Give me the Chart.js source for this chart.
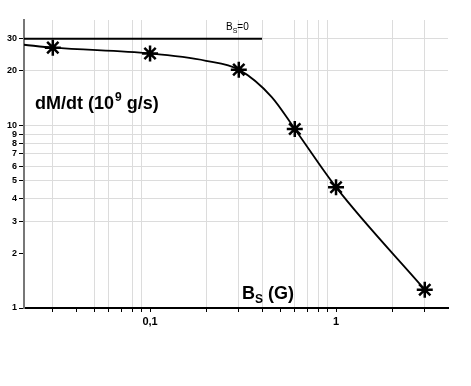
<!DOCTYPE html>
<html>
<head>
<meta charset="utf-8">
<script src="https://cdn.jsdelivr.net/npm/chart.js@4"></script>
<style>
  html, body { margin: 0; padding: 0; background: #fff; }
  #wrap { width: 471px; height: 386px; }
</style>
</head>
<body>
<div id="wrap"><canvas id="myChart" width="471" height="386"></canvas></div>
<script>
// measured points (stars)
const bField = [0.03, 0.1, 0.3, 0.6, 1, 3];
const mdot = [26.8, 24.9, 20.3, 9.6, 4.6, 1.26];
// fitted curve
const curveX = [0.021, 0.03, 0.1, 0.2, 0.3, 0.45, 0.6, 1, 3];
const curveY = [27.8, 26.8, 24.9, 22.7, 20.3, 14.4, 9.6, 4.6, 1.26];
// B_S = 0 level
const zeroX = [0.021, 0.4];
const zeroY = [30, 30];

const xTicks = [0.03, 0.04, 0.05, 0.06, 0.07, 0.08, 0.09, 0.1, 0.2, 0.3, 0.4, 0.5, 0.6, 0.7, 0.8, 0.9, 1, 2, 3];
const xNoGrid = [0.04, 0.07, 0.1, 0.5, 1];
const yTicks = [1, 2, 3, 4, 5, 6, 7, 8, 9, 10, 20, 30];
const yNoGrid = [1, 2];

const FONT = "'Liberation Sans', Arial, sans-serif";

function pts(xs, ys) {
  return xs.map((x, i) => ({ x: x, y: ys[i] }));
}

const titles = {
  id: "titles",
  afterDraw(chart) {
    const ctx = chart.ctx;
    ctx.save();
    ctx.fillStyle = "#000";
    ctx.textBaseline = "alphabetic";
    ctx.textAlign = "left";
    // y title
    let x = 35, y = 109;
    ctx.font = "bold 18px " + FONT;
    ctx.fillText("dM/dt (10", x, y);
    x += ctx.measureText("dM/dt (10").width;
    ctx.font = "bold 12px " + FONT;
    ctx.fillText("9", x + 1, y - 8);
    x += ctx.measureText("9").width + 1;
    ctx.font = "bold 18px " + FONT;
    ctx.fillText(" g/s)", x, y);
    // x title
    x = 242; y = 299;
    ctx.fillText("B", x, y);
    x += ctx.measureText("B").width;
    ctx.font = "bold 12px " + FONT;
    ctx.fillText("S", x, y + 4);
    x += ctx.measureText("S").width;
    ctx.font = "bold 18px " + FONT;
    ctx.fillText(" (G)", x, y);
    // B_S=0 label
    x = 226; y = 30;
    ctx.font = "10px " + FONT;
    ctx.fillText("B", x, y);
    x += ctx.measureText("B").width;
    ctx.font = "7px " + FONT;
    ctx.fillText("S", x, y + 3);
    x += ctx.measureText("S").width;
    ctx.font = "10px " + FONT;
    ctx.fillText("=0", x, y);
    ctx.restore();
  },
};

function charter() {
  const ctx = document.getElementById("myChart");
  new Chart(ctx, {
    type: "line",
    data: {
      datasets: [
        {
          data: pts(zeroX, zeroY),
          borderColor: "#000",
          borderWidth: 2,
          pointRadius: 0,
        },
        {
          data: pts(curveX, curveY),
          borderColor: "#000",
          borderWidth: 1.8,
          pointRadius: 0,
          cubicInterpolationMode: "monotone",
        },
        {
          data: pts(bField, mdot),
          showLine: false,
          pointStyle: "star",
          pointRadius: 8,
          borderColor: "#000",
          borderWidth: 2.5,
        },
      ],
    },
    options: {
      responsive: false,
      animation: false,
      layout: { padding: { left: 0, right: 23, top: 20, bottom: 0 } },
      plugins: { legend: { display: false }, tooltip: { enabled: false } },
      scales: {
        x: {
          type: "logarithmic",
          min: 0.021,
          max: 4,
          afterBuildTicks: (s) => { s.ticks = xTicks.map((v) => ({ value: v })); },
          afterFit: (s) => { s.height = 78; },
          border: { color: "#000", width: 2 },
          grid: {
            color: (c) => (c.tick && xNoGrid.includes(c.tick.value) ? "rgba(0,0,0,0)" : "#dcdcdc"),
            tickColor: "#000",
            tickLength: 4,
            lineWidth: 1,
          },
          ticks: {
            autoSkip: false,
            maxRotation: 0,
            padding: 3,
            color: "#000",
            font: { family: FONT, size: 11, weight: "bold" },
            callback: (v) => (v === 0.1 ? "0,1" : v === 1 ? "1" : ""),
          },
        },
        y: {
          type: "logarithmic",
          min: 1,
          max: 38,
          afterBuildTicks: (s) => { s.ticks = yTicks.map((v) => ({ value: v })); },
          afterFit: (s) => { s.width = 24; },
          border: { color: "#777", width: 2 },
          grid: {
            color: (c) => (c.tick && yNoGrid.includes(c.tick.value) ? "rgba(0,0,0,0)" : "#dcdcdc"),
            tickColor: "#000",
            tickLength: 5,
            lineWidth: 1,
          },
          ticks: {
            autoSkip: false,
            padding: 2,
            color: "#000",
            font: { family: FONT, size: 9, weight: "bold" },
            callback: (v) => String(v),
          },
        },
      },
    },
    plugins: [titles],
  });
}

window.onload = charter;
</script>
</body>
</html>
